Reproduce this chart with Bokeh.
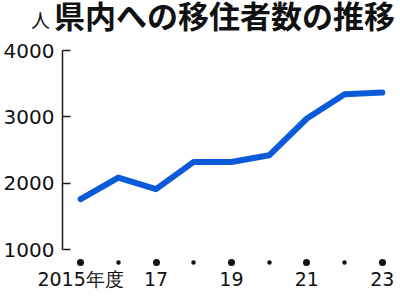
from bokeh.plotting import figure
from bokeh.models import Range1d, FixedTicker, Div
from bokeh.layouts import column
from bokeh.embed import file_html
from bokeh.resources import INLINE

years = [2015, 2016, 2017, 2018, 2019, 2020, 2021, 2022, 2023]
movers = [1760, 2085, 1910, 2320, 2320, 2420, 2975, 3340, 3365]
major_years = [2015, 2017, 2019, 2021, 2023]
minor_years = [2016, 2018, 2020, 2022]
x_labels = ["2015年度", "17", "19", "21", "23"]
y_ticks = [1000, 2000, 3000, 4000]
title_text = "県内への移住者数の推移"
unit_text = "人"

head = Div(
    text=(f'<div style="position:relative;width:400px;height:36px;white-space:nowrap;">'
          f'<span style="position:absolute;left:31px;top:10px;font-family:\'Noto Sans CJK JP\';'
          f'font-size:19px;line-height:20px;color:#111;">{unit_text}</span>'
          f'<span style="position:absolute;left:54px;top:0px;font-family:\'Noto Sans CJK JP\';'
          f'font-weight:bold;font-size:31px;line-height:30px;color:#111;">{title_text}</span>'
          f'</div>'),
    width=400, height=36, margin=(0, 0, 0, 0))

p = figure(width=400, height=264, output_backend="svg", toolbar_location=None,
           x_range=Range1d(2014.52, 2023.35), y_range=Range1d(1000, 4000),
           min_border_left=62, min_border_right=5, min_border_top=14, min_border_bottom=51,
           margin=(0, 0, 0, 0))
p.outline_line_color = None
p.grid.grid_line_color = None
p.background_fill_color = "white"
p.border_fill_color = "white"

p.line(years, movers, line_color="#0a5ad9", line_width=6, line_cap="round", line_join="round")

# y axis
ya = p.yaxis[0]
ya.ticker = FixedTicker(ticks=y_ticks)
ya.axis_line_color = "#1a1a1a"
ya.axis_line_width = 1.5
ya.major_tick_line_color = "#1a1a1a"
ya.major_tick_line_width = 1.5
ya.major_tick_in = 8
ya.major_tick_out = 0
ya.minor_tick_line_color = None
ya.major_label_standoff = 8
ya.major_label_text_font = "DejaVu Sans"
ya.major_label_text_font_size = "20px"
ya.major_label_text_color = "#111111"

# x axis with dot ticks
xa = p.xaxis[0]
xa.ticker = FixedTicker(ticks=major_years, minor_ticks=minor_years)
xa.axis_line_color = None
xa.major_tick_line_color = "#111111"
xa.major_tick_line_width = 7
xa.major_tick_line_cap = "round"
xa.major_tick_in = -13
xa.major_tick_out = 13
xa.minor_tick_line_color = "#111111"
xa.minor_tick_line_width = 4.5
xa.minor_tick_line_cap = "round"
xa.minor_tick_in = -13
xa.minor_tick_out = 13
xa.major_label_overrides = {y: t for y, t in zip(major_years, x_labels)}
xa.major_label_standoff = 5
xa.major_label_text_font = "DejaVu Sans"
xa.major_label_text_font_size = "19px"
xa.major_label_text_color = "#111111"

layout = column(head, p, spacing=0, margin=(0, 0, 0, 0))
open("out.html", "w").write(file_html(layout, INLINE))
